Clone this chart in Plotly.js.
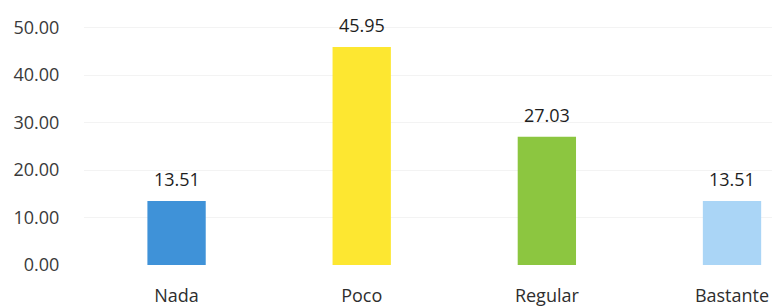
<!DOCTYPE html>
<html>
<head>
<meta charset="utf-8">
<script src="https://cdn.plot.ly/plotly-3.0.1.min.js"></script>
<style>html,body{margin:0;padding:0;background:#fff;}#chart{width:772px;height:306px;}</style>
</head>
<body>
<div id="chart"></div>
<script>
var categories = ["Nada", "Poco", "Regular", "Bastante"];
var values = [13.51, 45.95, 27.03, 13.51];
var barColors = ["#3f92d8", "#fde731", "#8cc640", "#aad5f6"];
var yTickVals = [0, 10, 20, 30, 40, 50];
var yTickText = ["0.00", "10.00", "20.00", "30.00", "40.00", "50.00"];

var fontFamily = "'Open Sans', 'Liberation Sans', sans-serif";

var trace = {
  type: "bar",
  x: categories.map(function(c, i){ return i; }),
  y: values,
  width: 0.315,
  marker: {color: barColors, line: {width: 0}},
  hoverinfo: "none"
};

var annotations = values.map(function(v, i){
  return {
    x: i, y: v, xref: "x", yref: "y",
    text: v.toFixed(2),
    showarrow: false,
    yanchor: "bottom",
    yshift: 8,
    font: {family: fontFamily, size: 18, color: "#1e1e1e"}
  };
});

var layout = {
  width: 772, height: 306,
  margin: {l: 84, r: 0, t: 4, b: 41, pad: 0},
  paper_bgcolor: "#ffffff",
  plot_bgcolor: "#ffffff",
  showlegend: false,
  font: {family: fontFamily, size: 18, color: "#3a3a3a"},
  xaxis: {
    range: [-0.5, 3.216],
    tickvals: [0, 1, 2, 3],
    ticktext: categories,
    showgrid: false, zeroline: false, showline: false,
    ticks: "outside", ticklen: 14, tickcolor: "rgba(0,0,0,0)",
    tickfont: {family: fontFamily, size: 18, color: "#2e2e2e"},
    fixedrange: true
  },
  yaxis: {
    range: [0, 55],
    tickvals: yTickVals,
    ticktext: yTickText,
    showgrid: true, gridcolor: "#f3f3f3", gridwidth: 1,
    zeroline: false, showline: false,
    ticks: "outside", ticklen: 20, tickcolor: "rgba(0,0,0,0)",
    tickfont: {family: fontFamily, size: 18, color: "#3a3a3a"},
    fixedrange: true
  },
  annotations: annotations
};

Plotly.newPlot("chart", [trace], layout, {displayModeBar: false, staticPlot: true});
</script>
</body>
</html>
